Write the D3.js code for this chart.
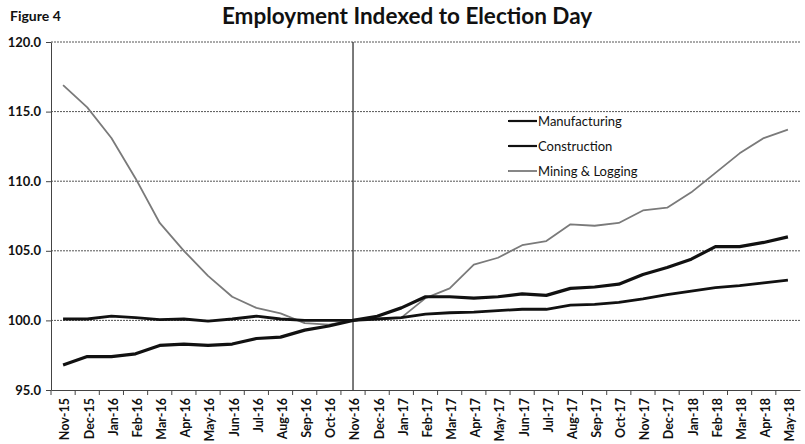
<!DOCTYPE html>
<html>
<head>
<meta charset="utf-8">
<script src="https://cdn.jsdelivr.net/npm/d3@7"></script>
<style>
  body { margin: 0; background: #fff; }
  text { font-family: Lato, "Open Sans", sans-serif; }
</style>
</head>
<body>
<div id="chart-area"></div>
<script>
// months, Nov-15 .. May-18
var months = ["Nov-15","Dec-15","Jan-16","Feb-16","Mar-16","Apr-16","May-16","Jun-16","Jul-16","Aug-16","Sep-16","Oct-16",
  "Nov-16","Dec-16","Jan-17","Feb-17","Mar-17","Apr-17","May-17","Jun-17","Jul-17","Aug-17","Sep-17","Oct-17",
  "Nov-17","Dec-17","Jan-18","Feb-18","Mar-18","Apr-18","May-18"];

var manufacturing = [100.1,100.1,100.3,100.2,100.05,100.1,99.95,100.1,100.3,100.1,100.0,100.0,
  100.0,100.1,100.2,100.45,100.55,100.6,100.7,100.8,100.8,101.1,101.15,101.3,
  101.55,101.85,102.1,102.35,102.5,102.7,102.9];

var construction = [96.8,97.4,97.4,97.6,98.2,98.3,98.2,98.3,98.7,98.8,99.3,99.6,
  100.0,100.3,100.9,101.7,101.7,101.6,101.7,101.9,101.8,102.3,102.4,102.6,
  103.3,103.8,104.4,105.3,105.3,105.6,106.0];

var mining = [116.9,115.3,113.1,110.2,107.0,105.0,103.2,101.7,100.9,100.5,99.8,99.7,
  100.0,100.1,100.2,101.6,102.3,104.0,104.5,105.4,105.7,106.9,106.8,107.0,
  107.9,108.1,109.2,110.6,112.0,113.1,113.7];

var yTicks = [95, 100, 105, 110, 115, 120];
var electionMonth = "Nov-16";

var series = [
  { name: "Manufacturing", values: manufacturing, color: "#111", width: 2.8 },
  { name: "Construction", values: construction, color: "#111", width: 3.2 },
  { name: "Mining & Logging", values: mining, color: "#7a7a7a", width: 1.8 }
];

var W = 805, H = 444;
var margin = { left: 51, right: 800, top: 42, bottom: 390 };

var svg = d3.select("#chart-area").append("svg")
  .attr("width", W)
  .attr("height", H);

// scales
var x = d3.scaleBand()
  .domain(months)
  .range([margin.left, margin.right]);

var y = d3.scaleLinear()
  .domain([95, 120])
  .range([margin.bottom, margin.top]);

function cx(m) { return x(m) + x.bandwidth() / 2; }

// titles
svg.append("text")
  .attr("x", 10)
  .attr("y", 21)
  .attr("font-size", "14px")
  .attr("font-weight", "bold")
  .attr("fill", "#111")
  .text("Figure 4");

svg.append("text")
  .attr("x", 407)
  .attr("y", 24)
  .attr("text-anchor", "middle")
  .attr("font-size", "22.5px")
  .attr("font-weight", "bold")
  .attr("fill", "#111")
  .text("Employment Indexed to Election Day");

// gridlines
svg.append("g")
  .selectAll("line")
  .data(yTicks.slice(1))
  .enter().append("line")
    .attr("x1", margin.left)
    .attr("x2", margin.right)
    .attr("y1", function(d) { return y(d); })
    .attr("y2", function(d) { return y(d); })
    .attr("stroke", "#555")
    .attr("stroke-width", 1)
    .attr("stroke-dasharray", "2,1");

// Y Axis
var yAxisCall = d3.axisLeft(y)
  .tickValues(yTicks)
  .tickSize(5)
  .tickSizeOuter(0)
  .tickFormat(d3.format(".1f"));
var yAxisGroup = svg.append("g")
  .attr("transform", "translate(" + margin.left + ",0)")
  .call(yAxisCall);
yAxisGroup.select(".domain").attr("stroke", "#444");
yAxisGroup.selectAll(".tick line").attr("stroke", "#444");
yAxisGroup.selectAll("text")
  .attr("font-size", "13px")
  .attr("font-family", "Lato, sans-serif")
  .attr("font-weight", "bold")
  .attr("fill", "#111")
  .attr("dx", "-2px");

// X Axis
var xAxisCall = d3.axisBottom(x)
  .tickSize(0)
  .tickSizeOuter(0);
var xAxisGroup = svg.append("g")
  .attr("transform", "translate(0," + margin.bottom + ")")
  .call(xAxisCall);
xAxisGroup.select(".domain").attr("stroke", "#444");
xAxisGroup.selectAll("text")
  .attr("font-size", "12.5px")
  .attr("font-family", "Lato, sans-serif")
  .attr("font-weight", "bold")
  .attr("fill", "#111")
  .attr("text-anchor", "end")
  .attr("transform", "rotate(-90)")
  .attr("x", -8)
  .attr("y", 2)
  .attr("dy", "0.35em");

// category boundary ticks
svg.append("g")
  .selectAll("line")
  .data(months)
  .enter().append("line")
    .attr("x1", function(d) { return x(d); })
    .attr("x2", function(d) { return x(d); })
    .attr("y1", margin.bottom)
    .attr("y2", margin.bottom + 5)
    .attr("stroke", "#444");

// election day marker
svg.append("line")
  .attr("x1", cx(electionMonth))
  .attr("x2", cx(electionMonth))
  .attr("y1", margin.top)
  .attr("y2", margin.bottom)
  .attr("stroke", "#222")
  .attr("stroke-width", 1.2);

// lines
var line = d3.line()
  .x(function(d, i) { return cx(months[i]); })
  .y(function(d) { return y(d); });

svg.append("g")
  .selectAll("path")
  .data(series.slice().reverse())
  .enter().append("path")
    .attr("d", function(d) { return line(d.values); })
    .attr("fill", "none")
    .attr("stroke", function(d) { return d.color; })
    .attr("stroke-width", function(d) { return d.width; })
    .attr("stroke-linejoin", "round");

// legend
var legend = svg.append("g")
  .attr("transform", "translate(508,121)");

var items = legend.selectAll("g")
  .data(series)
  .enter().append("g")
    .attr("transform", function(d, i) { return "translate(0," + (i * 25) + ")"; });

items.append("line")
  .attr("x1", 0)
  .attr("x2", 29)
  .attr("stroke", function(d) { return d.color; })
  .attr("stroke-width", function(d) { return Math.min(d.width, 2.2); });

items.append("text")
  .attr("x", 30)
  .attr("dy", "0.35em")
  .attr("font-size", "13px")
  .attr("fill", "#111")
  .text(function(d) { return d.name; });
</script>
</body>
</html>
